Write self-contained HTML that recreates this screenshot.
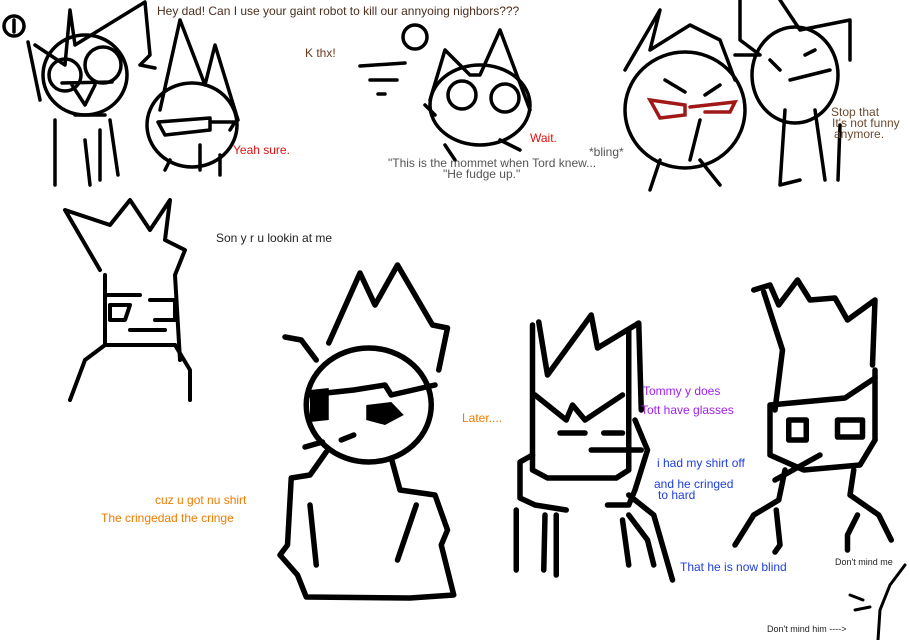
<!DOCTYPE html>
<html><head><meta charset="utf-8"><style>
html,body{margin:0;padding:0;background:#fff;}
svg{display:block}
text{font-family:"Liberation Sans",sans-serif;font-size:12px}
.ns *{vector-effect:non-scaling-stroke}
</style></head><body>
<svg width="910" height="640" viewBox="0 0 910 640" xmlns="http://www.w3.org/2000/svg">
<g fill="none" stroke="#000" stroke-width="3.5" stroke-linecap="round" stroke-linejoin="round">
<!-- panel 1 -->
<circle cx="14" cy="26" r="10"/><path d="M14 20 L14 32"/>
<path d="M35 45 L65 65 L70 10 L75 45 L145 2 L150 55 L140 65 L155 68"/>
<path d="M28 42 L40 100"/>
<ellipse cx="85" cy="75" rx="42" ry="40"/>
<ellipse cx="65" cy="75" rx="16" ry="16"/><ellipse cx="103" cy="65" rx="18" ry="18"/>
<path d="M62 83 L112 82 M72 85 L85 105 L95 85"/>
<path d="M55 120 L55 185 M75 115 L105 115 M85 140 L90 185 M100 130 L100 180 M110 120 L118 175"/>
<path d="M180 20 L160 110 M180 20 L205 85 L215 45 L238 120"/>
<ellipse cx="192" cy="125" rx="45" ry="42"/>
<path d="M158 122 L210 118 L210 130 L165 135 Z M210 122 L235 122 L230 130"/>
<path d="M170 160 L165 170 M200 145 L200 170 M220 155 L220 175"/>
<!-- panel 2 -->
<circle cx="415" cy="37" r="12"/><path d="M360 66 L405 63 M370 80 L397 80 M378 94 L385 94"/>
<path d="M445 50 L430 100 M445 50 L470 75 L480 75 L500 30 L530 110"/>
<ellipse cx="480" cy="105" rx="50" ry="40"/>
<ellipse cx="462" cy="95" rx="14" ry="14"/><ellipse cx="505" cy="98" rx="14" ry="14"/>
<path d="M425 105 L435 115 M445 145 L455 160 M500 140 L520 150"/>
<!-- panel 3 -->
<path d="M625 70 L660 10 L650 50 L690 25 L720 40 L735 80 M740 0 L740 40 L760 55 L735 55 M780 0 L800 30 L850 20 L850 60"/>
<ellipse cx="685" cy="110" rx="60" ry="58"/>
<ellipse cx="795" cy="75" rx="43" ry="48"/>
<path d="M665 80 L685 92 M720 85 L705 95 M700 120 L690 160 M660 160 L650 190 M700 160 L720 185"/>
<path d="M770 60 L780 70 M805 55 L815 50 M790 80 L830 70 M785 110 L780 185 L800 180 M815 110 L825 180 M840 125 L838 180"/>
</g>
<g fill="none" stroke="#a01818" stroke-width="3.5" stroke-linecap="round">
<path d="M650 100 L685 105 L685 115 L660 118 Z M690 107 L735 102 L730 112 L705 112"/>
</g>
<g fill="none" stroke="#000" stroke-width="4" stroke-linecap="round" stroke-linejoin="round">
<!-- bottom left guy -->
<path d="M100 270 L65 210 L110 225 L130 200 L150 230 L170 200 L165 240 L185 250 L175 275 L180 360"/>
<path d="M105 275 L105 345 L175 345 M105 295 L140 295 M110 305 L130 305 L125 320 L110 320 Z M150 300 L175 300 L175 320 L155 320"/>
<path d="M130 330 L165 330 M105 345 L85 360 L70 400 M175 345 L190 370 L190 400"/>
</g>
<g class="ns" transform="matrix(1.25,0,0,1,-65,0)">
<g fill="none" stroke="#000" stroke-width="5.5" stroke-linecap="round" stroke-linejoin="round">
<!-- middle cat -->
<path d="M280 337 L293 340 L305 360 M315 343 L340 273 L352 305 L370 265 L398 325 L410 328 L403 370"/>
<ellipse cx="347" cy="405" rx="50" ry="57"/>
<path d="M298 395 L335 390 L360 385 L365 395 L400 385"/>
<path d="M313 452 L300 475 L285 478 L282 545 L276 555 L290 575 L297 597 L380 598 L415 595 L405 545 L410 530 L400 495 L372 490 L365 458"/>
<path d="M300 505 L305 565 M385 505 L370 560"/>
<path d="M325 440 L335 435 M296 447 L310 442"/>
<!-- spiky guy -->
<path d="M478 470 L478 325 M483 322 L490 375 L525 315 L530 348 L563 323 L565 410 M555 330 L555 470 M478 470 L490 478 L545 478 L555 470"/>
<path d="M480 395 L505 420 L510 405 L520 420 L550 395 M500 433 L520 433 M535 433 L550 433 M525 450 L565 450"/>
<path d="M478 455 L468 462 L468 498 L480 505 L505 510 M465 510 L465 570 M488 515 L487 570 M497 515 L497 575"/>
<path d="M560 420 L570 450 L560 490 L555 505 L538 505 M555 495 L575 515 L590 580 M555 515 L570 540 L575 565 M550 520 L555 565"/>
<!-- right guy -->
<path d="M655 290 L668 285 L675 305 L690 280 L700 300 L720 298 L730 320 L752 300 L750 365 M663 292 L678 350 L672 410 M752 370 L752 440"/>
<path d="M668 405 L668 455 L695 470 L740 465 L752 440 M668 405 L728 398 L752 378"/>
<path d="M683 420 L697 420 L697 440 L683 440 Z M722 420 L742 420 L742 437 L722 437 Z M708 455 L672 480"/>
<path d="M680 470 L675 500 L655 515 L640 545 M735 470 L732 495 L755 515 L765 540 M673 510 L676 545 L672 552 M738 515 L730 535 L730 550"/>
</g>
<g fill="#000">
<path d="M300 390 L315 388 L315 420 L300 422 Z"/>
<path d="M345 405 L365 402 L375 415 L360 425 L345 420 Z"/>
</g>
</g>
<g fill="none" stroke="#000" stroke-width="3" stroke-linecap="round">
<path d="M905 565 L890 585 L880 610 L878 640 M850 595 L863 600 M855 610 L870 607"/>
</g>
<text x="157" y="15" fill="#4b2e1e">Hey dad! Can I use your gaint robot to kill our annyoing nighbors???</text>
<text x="305" y="57" fill="#6b3a1e">K thx!</text>
<text x="233" y="154" fill="#e01010">Yeah sure.</text>
<text x="530" y="142" fill="#e01010">Wait.</text>
<text x="388" y="167" fill="#555">"This is the mommet when Tord knew...</text>
<text x="443" y="178" fill="#555">"He fudge up."</text>
<text x="589" y="156" fill="#555">*bling*</text>
<text x="831" y="116" fill="#6b4a30">Stop that</text>
<text x="832" y="127" fill="#6b4a30">It's not funny</text>
<text x="834" y="138" fill="#6b4a30">anymore.</text>
<text x="216" y="242" fill="#222">Son y r u lookin at me</text>
<text x="462" y="422" fill="#f07b00">Later....</text>
<text x="643" y="395" fill="#a020f0">Tommy y does</text>
<text x="641" y="414" fill="#a020f0">Tott have glasses</text>
<text x="657" y="467" fill="#1e3ee0">i had my shirt off</text>
<text x="654" y="488" fill="#1e3ee0">and he cringed</text>
<text x="658" y="499" fill="#1e3ee0">to hard</text>
<text x="155" y="504" fill="#f07b00">cuz u got nu shirt</text>
<text x="101" y="522" fill="#f07b00">The cringedad the cringe</text>
<text x="680" y="571" fill="#1e3ee0">That he is now blind</text>
<text x="835" y="565" fill="#222" style="font-size:9px">Don't mind me</text>
<text x="767" y="632" fill="#222" style="font-size:9px">Don't mind him ----&gt;</text>
</svg>
</body></html>
